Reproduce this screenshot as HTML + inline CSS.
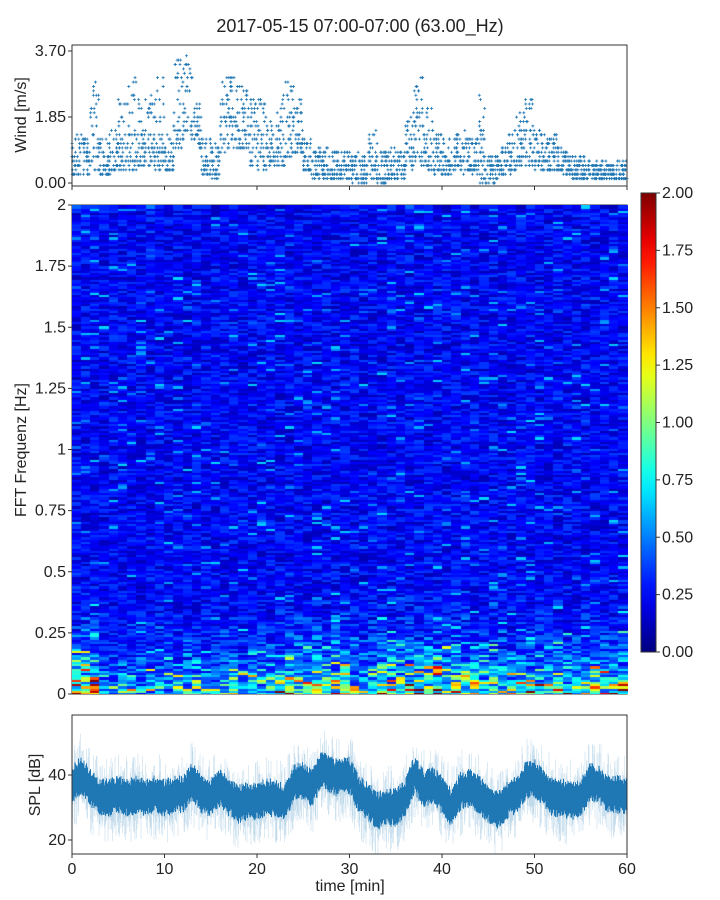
<!DOCTYPE html>
<html><head><meta charset="utf-8"><style>
body{margin:0;background:#fff;font-family:"Liberation Sans",sans-serif}
#root{position:relative;width:720px;height:900px}
</style></head><body>
<div id="root">
<svg id="svg" width="720" height="900" style="position:absolute;left:0;top:0"></svg>
<canvas id="hm" width="556" height="489" style="position:absolute;left:72px;top:205px"></canvas>
</div>
<script>
// ---- data ----
const minutes = Array.from({length:60},(_,i)=>i);
const windLo = [0.2,0.2,0.3,0.2,0.3,0.3,0.3,0.5,0.5,0.4,0.3,1.0,1.2,1.0,0.2,0.1,0.9,1.0,0.9,0.5,0.4,0.5,0.5,0.7,0.8,0.3,0.1,0.1,0.1,0.1,0.0,0.0,0.1,0.0,0.1,0.1,0.4,0.5,0.4,0.3,0.2,0.3,0.2,0.3,0.0,0.0,0.2,0.3,0.5,0.5,0.4,0.3,0.3,0.2,0.1,0.1,0.1,0.1,0.1,0.1];
const windHi = [1.4,1.3,2.9,1.3,1.5,2.4,3.0,2.4,2.6,3.0,1.3,3.5,3.6,2.2,1.3,1.2,3.0,3.0,2.8,2.3,2.4,1.7,2.7,2.9,2.6,1.2,1.0,1.0,0.9,0.9,0.9,0.8,1.5,0.9,1.0,0.9,2.0,3.0,2.1,1.4,1.3,1.4,1.5,1.3,2.5,0.8,1.0,1.5,2.0,2.5,1.5,1.4,1.4,0.9,0.8,0.7,0.6,0.6,0.6,0.7];
const lowFreqPower = [1.6,1.8,1.7,0.8,0.6,0.7,0.8,0.7,0.8,0.9,0.7,0.8,0.9,1.0,0.8,0.7,0.8,0.9,1.0,0.9,1.0,1.0,1.2,1.2,1.3,1.4,1.3,1.3,1.4,1.3,1.0,1.0,1.1,1.2,1.3,1.4,1.5,1.6,1.5,1.8,1.6,1.5,1.4,1.3,1.2,1.1,1.0,1.0,1.1,1.2,1.3,1.2,1.1,1.0,1.0,1.1,1.3,1.3,1.4,1.5];
const splMean = [37,40,36,33,33,34,33,34,33,34,33,34,34,38,34,33,36,33,31,32,32,33,33,31,38,38,36,42,40,39,40,34,32,29,30,30,33,40,36,37,34,30,35,36,34,31,29,32,34,38,39,36,33,33,32,33,38,37,34,34];
const windTicks = [0,1.85,3.7];
const windTickLabels = ["0.00","1.85","3.70"];
const freqTicks = [0,0.25,0.5,0.75,1,1.25,1.5,1.75,2];
const freqTickLabels = ["0","0.25","0.5","0.75","1","1.25","1.5","1.75","2"];
const cbTicks = [0,0.25,0.5,0.75,1,1.25,1.5,1.75,2];
const cbTickLabels = ["0.00","0.25","0.50","0.75","1.00","1.25","1.50","1.75","2.00"];
const splTicks = [20,40];
const timeTicks = [0,10,20,30,40,50,60];

// ---- helpers ----
const svg=document.getElementById('svg');const NS='http://www.w3.org/2000/svg';
function mk(tag,attrs,parent){const e=document.createElementNS(NS,tag);for(const k in attrs)e.setAttribute(k,attrs[k]);(parent||svg).appendChild(e);return e;}
function txt(x,y,s,size,anchor,name,rot){const t=mk('text',{x:x,y:y,'font-size':size,'text-anchor':anchor||'middle','font-family':'Liberation Sans, sans-serif',fill:'#222'});if(rot)t.setAttribute('transform','rotate(-90 '+x+' '+y+')');t.textContent=s;


return t;}
function hash(a,b){let h=(a*374761393+b*668265263)|0;h=(h^(h>>>13))*1274126177|0;return ((h^(h>>>16))>>>0)/4294967295;}
const X0=72,X1=627;
const xT=m=>X0+(m/60)*(X1-X0);
const yW=v=>183-(v/3.7)*132;
const yF=v=>694-(v/2)*489;
const yC=v=>652-(v/2)*459;
const yS=v=>840-(v-20)*3.25;

txt(360,32,'2017-05-15 07:00-07:00 (63.00_Hz)',18,'middle','chart-title');

// ---- wind panel ----
const wg=mk('g',{});


minutes.forEach(i=>{
  const lo=windLo[i],hi=windHi[i];
  for(let k=0;k<40;k++){
    const r=hash(i,k);const r2=hash(k+99,i);
    let v=lo+(hi-lo)*Math.pow(r,1.4);
    v=Math.round(v/0.123)*0.123;
    const x=xT(i+r2),y=yW(v);
    mk('path',{d:`M${x-1.5} ${y}h3M${x} ${y-1.5}v3`,stroke:'#1f77b4','stroke-width':0.8},wg);
  }
});
const wbox=mk('rect',{x:X0,y:45,width:X1-X0,height:141,fill:'none',stroke:'#333','stroke-width':1});


windTicks.forEach((v,i)=>{mk('line',{x1:X0-4,x2:X0,y1:yW(v),y2:yW(v),stroke:'#333'});txt(X0-6,yW(v)+5,windTickLabels[i],16,'end','wind-tick-label');});
timeTicks.forEach(m=>mk('line',{x1:xT(m),x2:xT(m),y1:186,y2:190,stroke:'#333'}));
txt(26,115,'Wind [m/s]',16,'middle','wind-y-axis-title',true);

// ---- heatmap ----
function jet(v){v=Math.max(0,Math.min(1,v));const r=Math.max(0,Math.min(1,1.5-Math.abs(4*v-3))),g=Math.max(0,Math.min(1,1.5-Math.abs(4*v-2))),b=Math.max(0,Math.min(1,1.5-Math.abs(4*v-1)));return `rgb(${r*255|0},${g*255|0},${b*255|0})`;}
const cv=document.getElementById('hm').getContext('2d');
const nRows=220,cw=556/60,rh=489/nRows;
minutes.forEach(i=>{
  for(let j=0;j<nRows;j++){
    const f=(j+0.5)/nRows*2;
    const n=hash(i*7+3,j*13+1),n2=hash(j,i+500);
    let v=0.24+(n-0.5)*0.28+(n2>0.95?0.3:0);
    const low=Math.exp(-f/0.1);
    v+=(lowFreqPower[i]-0.3)*low*(0.3+1.6*n*n2*1.5);
    if(f<0.35) v+=0.12*(1-f/0.35)*n2;
    cv.fillStyle=jet(v/2);
    cv.fillRect(Math.floor(i*cw),Math.floor(489-(j+1)*rh),Math.ceil(cw)+1,Math.ceil(rh)+1);
  }
});
const hbox=mk('rect',{x:X0,y:205,width:X1-X0,height:489,fill:'none',stroke:'#333'});


freqTicks.forEach((v,i)=>{mk('line',{x1:X0-4,x2:X0,y1:yF(v),y2:yF(v),stroke:'#333'});txt(X0-6,yF(v)+5,freqTickLabels[i],16,'end','freq-tick-label');});
txt(26,450,'FFT Frequenz [Hz]',16,'middle','freq-y-axis-title',true);

// ---- colorbar ----
const defs=mk('defs',{});const lg=mk('linearGradient',{id:'jetg',x1:0,y1:1,x2:0,y2:0},defs);
for(let s=0;s<=20;s++){mk('stop',{offset:s/20,'stop-color':jet(s/20)},lg);}
const cb=mk('rect',{x:641,y:193,width:15,height:459,fill:'url(#jetg)',stroke:'#333'});


cbTicks.forEach((v,i)=>{mk('line',{x1:656,x2:660,y1:yC(v),y2:yC(v),stroke:'#333'});txt(662,yC(v)+5,cbTickLabels[i],16,'start','colorbar-tick-label');});

// ---- SPL ----
const sg=mk('g',{});


for(let px=0;px<(X1-X0)*2;px++){
  const m=px/((X1-X0)*2)*60;
  const i=Math.min(59,Math.floor(m)),i2=Math.min(59,i+1),t=m-i;
  const mean=splMean[i]*(1-t)+splMean[i2]*t;
  const a=hash(px,7),b=hash(px,13),c=hash(px,21),d=hash(px,33);
  const x=X0+px/2;
  const loL=mean-5-9*a*a, hiL=mean+4+9*b*b*b;
  mk('line',{x1:x,x2:x,y1:yS(hiL),y2:yS(loL),stroke:'#1f77b4','stroke-opacity':0.3,'stroke-width':0.5},sg);
  mk('line',{x1:x,x2:x,y1:yS(mean+3+3*c),y2:yS(mean-3-3*d),stroke:'#1f77b4','stroke-width':1},sg);
}
const sbox=mk('rect',{x:X0,y:715,width:X1-X0,height:139,fill:'none',stroke:'#333'});


splTicks.forEach(v=>{mk('line',{x1:X0-4,x2:X0,y1:yS(v),y2:yS(v),stroke:'#333'});txt(X0-6,yS(v)+5,String(v),16,'end','spl-tick-label');});
timeTicks.forEach(m=>{mk('line',{x1:xT(m),x2:xT(m),y1:854,y2:858,stroke:'#333'});txt(xT(m),874,String(m),16,'middle','time-tick-label');});
txt(350,891,'time [min]',16,'middle','x-axis-title');
txt(40,785,'SPL [dB]',16,'middle','spl-y-axis-title',true);
</script>
</body></html>
